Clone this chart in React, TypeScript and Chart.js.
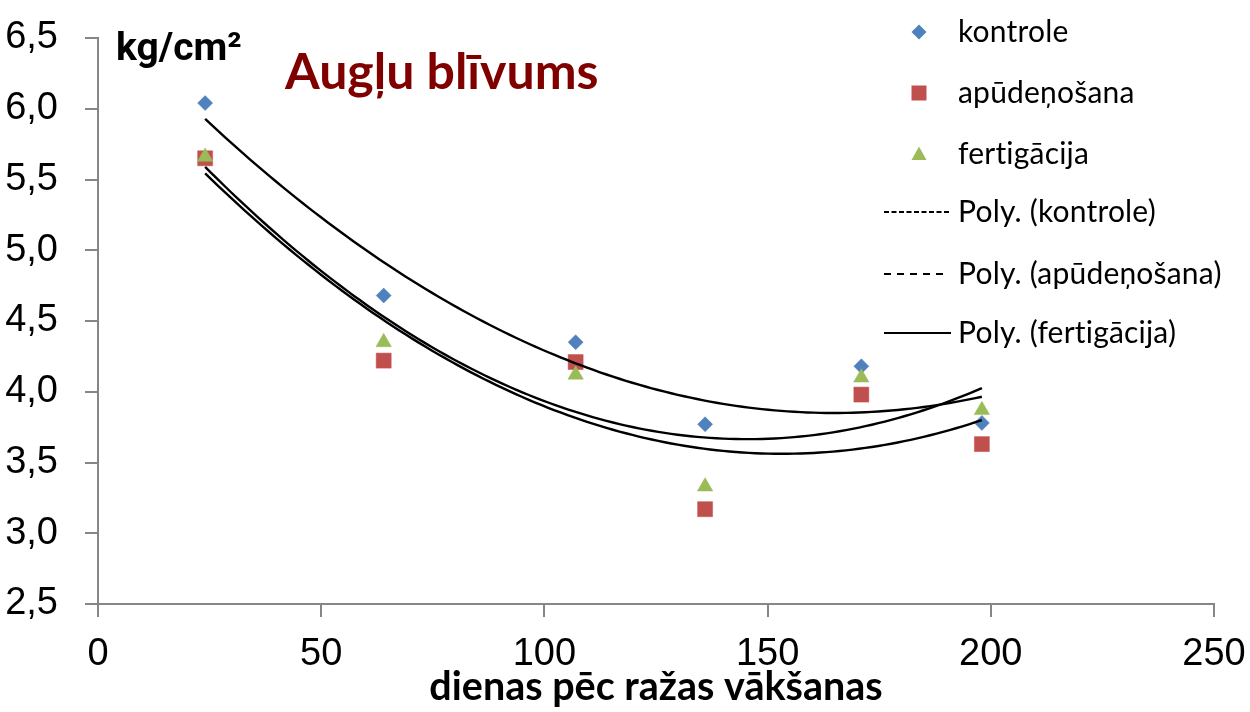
import React, { useEffect, useRef } from 'react';
import { Chart, registerables } from 'chart.js';

Chart.register(...registerables);

// ---- data ----
const days = [24, 64, 107, 136, 171, 198];
const kontrole = [6.04, 4.68, 4.35, 3.77, 4.18, 3.78];
const apudenosana = [5.65, 4.22, 4.21, 3.17, 3.98, 3.63];
const fertigacija = [5.66, 4.35, 4.12, 3.33, 4.1, 3.87];

const seriesNames = ['kontrole', 'apūdeņošana', 'fertigācija'];
const trendNames = ['Poly. (kontrole)', 'Poly. (apūdeņošana)', 'Poly. (fertigācija)'];
const seriesColors = ['#4F81BD', '#C0504D', '#9BBB59'];

const xMin = 0;
const xMax = 250;
const xStep = 50;
const yMin = 2.5;
const yMax = 6.5;
const yStep = 0.5;

const chartTitle = 'Augļu blīvums';
const unitLabel = 'kg/cm²';
const xTitle = 'dienas pēc ražas vākšanas';

// quadratic least-squares fit (Excel "Poly." trendline of order 2)
function polyFit2(xs: number[], ys: number[]): number[] {
  let s0 = 0, s1 = 0, s2 = 0, s3 = 0, s4 = 0, t0 = 0, t1 = 0, t2 = 0;
  for (let i = 0; i < xs.length; i++) {
    const x = xs[i], y = ys[i];
    s0 += 1; s1 += x; s2 += x * x; s3 += x * x * x; s4 += x * x * x * x;
    t0 += y; t1 += x * y; t2 += x * x * y;
  }
  const M = [
    [s0, s1, s2, t0],
    [s1, s2, s3, t1],
    [s2, s3, s4, t2],
  ];
  for (let c = 0; c < 3; c++) {
    let p = c;
    for (let r = c + 1; r < 3; r++) if (Math.abs(M[r][c]) > Math.abs(M[p][c])) p = r;
    [M[c], M[p]] = [M[p], M[c]];
    for (let r = 0; r < 3; r++) {
      if (r === c) continue;
      const f = M[r][c] / M[c][c];
      for (let k = c; k < 4; k++) M[r][k] -= f * M[c][k];
    }
  }
  return [M[0][3] / M[0][0], M[1][3] / M[1][1], M[2][3] / M[2][2]];
}

function trendline(xs: number[], ys: number[]) {
  const [a, b, c] = polyFit2(xs, ys);
  const lo = Math.min(...xs);
  const hi = Math.max(...xs);
  const n = 120;
  const pts: { x: number; y: number }[] = [];
  for (let i = 0; i <= n; i++) {
    const x = lo + ((hi - lo) * i) / n;
    pts.push({ x, y: a + b * x + c * x * x });
  }
  return pts;
}

function drawMarker(ctx: CanvasRenderingContext2D, kind: number, x: number, y: number, color: string) {
  ctx.save();
  ctx.fillStyle = color;
  ctx.beginPath();
  if (kind === 0) {
    const r = 7.5;
    ctx.moveTo(x, y - r);
    ctx.lineTo(x + r, y);
    ctx.lineTo(x, y + r);
    ctx.lineTo(x - r, y);
  } else if (kind === 1) {
    ctx.rect(x - 7.5, y - 7.5, 15, 15);
  } else {
    ctx.moveTo(x, y - 7.5);
    ctx.lineTo(x + 7.5, y + 6);
    ctx.lineTo(x - 7.5, y + 6);
  }
  ctx.closePath();
  ctx.fill();
  ctx.restore();
}

const annotationsPlugin = {
  id: 'annotations',
  afterDraw(chart: any) {
    const ctx: CanvasRenderingContext2D = chart.ctx;
    ctx.save();
    ctx.textBaseline = 'alphabetic';
    ctx.textAlign = 'left';

    // unit label
    ctx.fillStyle = '#000';
    ctx.font = 'bold 39px Roboto, "Liberation Sans", sans-serif';
    ctx.fillText(unitLabel, 116, 60);

    // chart title
    ctx.fillStyle = '#800000';
    ctx.font = 'bold 50px Lato, "Open Sans", sans-serif';
    ctx.fillText(chartTitle, 285, 89);

    // x axis title
    ctx.fillStyle = '#000';
    ctx.textAlign = 'center';
    ctx.font = 'bold 39.5px Lato, "Open Sans", sans-serif';
    ctx.fillText(xTitle, (chart.chartArea.left + chart.chartArea.right) / 2, 700);

    // legend
    ctx.textAlign = 'left';
    ctx.font = '30px Lato, "Open Sans", sans-serif';
    try { (ctx as any).letterSpacing = '0.2px'; } catch (e) { /* ignore */ }
    const rowY = [32, 93, 154, 212, 274, 333];
    for (let i = 0; i < 3; i++) {
      drawMarker(ctx, i, 919, rowY[i], seriesColors[i]);
      ctx.fillStyle = '#000';
      ctx.fillText(seriesNames[i], 958, rowY[i] + 10);
    }
    const dashes = [[5, 2.5], [7, 6], []];
    for (let i = 0; i < 3; i++) {
      const y = rowY[i + 3];
      ctx.save();
      ctx.strokeStyle = '#000';
      ctx.lineWidth = 1.8;
      ctx.setLineDash(dashes[i]);
      ctx.beginPath();
      ctx.moveTo(884, y);
      ctx.lineTo(i === 1 ? 946 : 951, y);
      ctx.stroke();
      ctx.restore();
      ctx.fillStyle = '#000';
      ctx.fillText(trendNames[i], 958, y + 10);
    }
    ctx.restore();
  },
};

export default function App() {
  const canvasRef = useRef<HTMLCanvasElement | null>(null);

  useEffect(() => {
    if (!canvasRef.current) return;
    const seriesValues = [kontrole, apudenosana, fertigacija];
    const pointStyles = ['rectRot', 'rect', 'triangle'];
    const pointRadii = [7.5, 10.6, 8.9];

    const markerSets = seriesValues.map((vals, i) => ({
      label: seriesNames[i],
      data: days.map((d, j) => ({ x: d, y: vals[j] })),
      pointStyle: pointStyles[i],
      pointRadius: pointRadii[i],
      pointHoverRadius: pointRadii[i],
      backgroundColor: seriesColors[i],
      borderColor: seriesColors[i],
      pointBorderWidth: 0.5,
      showLine: false,
      order: 4 - i,
    }));
    const trendSets = seriesValues.map((vals, i) => ({
      label: trendNames[i],
      data: trendline(days, vals),
      showLine: true,
      pointRadius: 0,
      borderColor: '#000',
      borderWidth: 2.4,
      fill: false,
      order: 0,
    }));

    const tickFont = { family: '"Liberation Sans", Arial, sans-serif', size: 38 };

    const chart = new Chart(canvasRef.current, {
      type: 'scatter',
      data: { datasets: [...trendSets, ...markerSets] as any },
      options: {
        responsive: false,
        animation: false,
        events: [],
        layout: { padding: { top: 38, right: 36, left: 0, bottom: 0 } },
        plugins: {
          legend: { display: false },
          tooltip: { enabled: false },
        },
        scales: {
          x: {
            type: 'linear',
            min: xMin,
            max: xMax,
            ticks: { stepSize: xStep, font: tickFont, color: '#000', padding: 15 },
            grid: { drawOnChartArea: false, drawTicks: true, tickLength: 13, color: '#868686', lineWidth: 2 },
            border: { color: '#868686', width: 2 },
            afterFit: (s: any) => {
              s.height = 108;
              s.paddingLeft = 0;
              s.paddingRight = 0;
            },
          },
          y: {
            type: 'linear',
            min: yMin,
            max: yMax,
            ticks: {
              stepSize: yStep,
              font: tickFont,
              color: '#000',
              padding: 27,
              callback: (v: any) => Number(v).toFixed(1).replace('.', ','),
            },
            grid: { drawOnChartArea: false, drawTicks: true, tickLength: 13, color: '#868686', lineWidth: 2 },
            border: { color: '#868686', width: 2 },
            afterFit: (s: any) => {
              s.width = 98;
              s.paddingTop = 0;
              s.paddingBottom = 0;
            },
          },
        },
      },
      plugins: [annotationsPlugin],
    });
    return () => chart.destroy();
  }, []);

  return (
    <div style={{ position: 'fixed', left: 0, top: 0, width: 1250, height: 712, background: '#fff' }}>
      <canvas ref={canvasRef} width={1250} height={712} style={{ display: 'block' }} />
    </div>
  );
}
